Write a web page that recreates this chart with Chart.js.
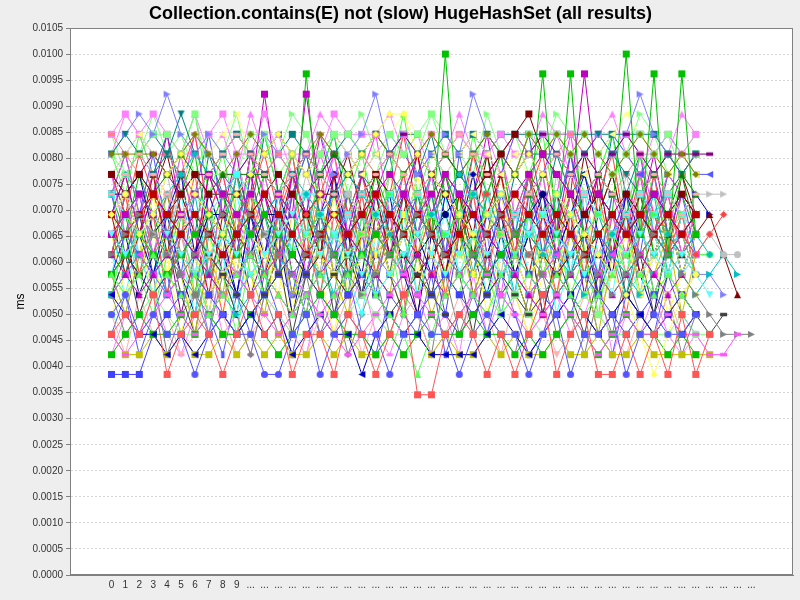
<!DOCTYPE html>
<html>
<head>
<meta charset="utf-8">
<title>Collection.contains(E) not (slow) HugeHashSet (all results)</title>
<script src="https://cdn.jsdelivr.net/npm/chart.js@4.4.0/dist/chart.umd.min.js"></script>
<style>
  html, body { margin: 0; padding: 0; background: #eeeeee; }
  #chart { display: block; }
</style>
</head>
<body>
<canvas id="chart" width="800" height="600"></canvas>
<script>
// ============ Data ============

const categories = [
    '0', '1', '2', '3', '4', '5', '6', '7', '8', '9',
    '...', '...', '...', '...', '...', '...', '...', '...', '...', '...',
    '...', '...', '...', '...', '...', '...', '...', '...', '...', '...',
    '...', '...', '...', '...', '...', '...', '...', '...', '...', '...',
    '...', '...', '...', '...', '...', '...', '...'
];

// one array per run, values in ms
const redSquare = [0.00462,0.00500,0.00462,0.00538,0.00385,0.00462,0.00500,0.00462,0.00385,0.00462,0.00538,0.00462,0.00500,0.00385,0.00462,0.00462,0.00385,0.00500,0.00462,0.00385,0.00462,0.00538,0.00346,0.00346,0.00462,0.00500,0.00462,0.00385,0.00462,0.00385,0.00462,0.00538,0.00385,0.00462,0.00500,0.00385,0.00385,0.00462,0.00385,0.00462,0.00385,0.00500,0.00385,0.00462];
const blueCircle = [0.00500,0.00538,0.00462,0.00500,0.00462,0.00462,0.00385,0.00462,0.00500,0.00462,0.00462,0.00385,0.00385,0.00462,0.00500,0.00385,0.00462,0.00500,0.00462,0.00462,0.00385,0.00462,0.00500,0.00462,0.00462,0.00385,0.00462,0.00500,0.00462,0.00462,0.00385,0.00462,0.00500,0.00385,0.00462,0.00462,0.00500,0.00385,0.00462,0.00500,0.00462,0.00462,0.00500];
const greenTriangle = [0.00577,0.00538,0.00577,0.00615,0.00577,0.00538,0.00577,0.00500,0.00538,0.00577,0.00615,0.00577,0.00538,0.00500,0.00538,0.00577,0.00538,0.00577,0.00615,0.00538,0.00500,0.00462,0.00385,0.00462,0.00538,0.00577,0.00538,0.00500,0.00577,0.00615,0.00577,0.00538,0.00577,0.00538,0.00500,0.00538,0.00577,0.00615,0.00577,0.00538,0.00577,0.00538,0.00500];
const yellowDiamond = [0.00692,0.00731,0.00654,0.00692,0.00769,0.00808,0.00731,0.00692,0.00654,0.00731,0.00769,0.00808,0.00846,0.00808,0.00769,0.00731,0.00692,0.00769,0.00808,0.00846,0.00885,0.00885,0.00808,0.00769,0.00731,0.00692,0.00654,0.00692,0.00731,0.00769,0.00808,0.00769,0.00731,0.00692,0.00654,0.00615,0.00577,0.00538,0.00462,0.00385,0.00462,0.00538,0.00577];
const magentaRect = [0.00462,0.00423,0.00462,0.00500,0.00538,0.00500,0.00462,0.00500,0.00538,0.00577,0.00538,0.00500,0.00462,0.00500,0.00538,0.00500,0.00462,0.00423,0.00462,0.00500,0.00538,0.00577,0.00538,0.00500,0.00462,0.00500,0.00538,0.00577,0.00538,0.00500,0.00462,0.00500,0.00538,0.00500,0.00462,0.00423,0.00462,0.00500,0.00462,0.00462,0.00500,0.00462,0.00462,0.00423,0.00423,0.00462];
const cyanDownTriangle = [0.00654,0.00615,0.00654,0.00692,0.00654,0.00615,0.00577,0.00615,0.00654,0.00615,0.00577,0.00615,0.00654,0.00692,0.00654,0.00615,0.00654,0.00615,0.00577,0.00538,0.00577,0.00615,0.00654,0.00615,0.00577,0.00615,0.00654,0.00615,0.00577,0.00615,0.00654,0.00692,0.00654,0.00615,0.00577,0.00615,0.00577,0.00615,0.00654,0.00615,0.00577,0.00615,0.00577,0.00538];
const pinkEllipse = [0.00731,0.00769,0.00808,0.00769,0.00731,0.00692,0.00731,0.00769,0.00808,0.00846,0.00808,0.00769,0.00731,0.00769,0.00808,0.00769,0.00731,0.00692,0.00731,0.00769,0.00808,0.00769,0.00731,0.00769,0.00808,0.00846,0.00808,0.00769,0.00731,0.00692,0.00731,0.00769,0.00808,0.00769,0.00731,0.00769,0.00731,0.00692,0.00731,0.00769,0.00731,0.00692,0.00731];
const grayTriangle = [0.00615,0.00654,0.00692,0.00654,0.00615,0.00577,0.00615,0.00654,0.00692,0.00731,0.00692,0.00654,0.00615,0.00577,0.00615,0.00654,0.00615,0.00577,0.00538,0.00577,0.00615,0.00654,0.00692,0.00654,0.00615,0.00577,0.00615,0.00654,0.00692,0.00654,0.00615,0.00577,0.00538,0.00577,0.00615,0.00577,0.00538,0.00577,0.00615,0.00654,0.00615,0.00577,0.00538,0.00500,0.00462,0.00462,0.00462];
const darkRedSquare = [0.00692,0.00654,0.00692,0.00731,0.00692,0.00654,0.00692,0.00654,0.00615,0.00654,0.00692,0.00731,0.00692,0.00654,0.00615,0.00654,0.00692,0.00654,0.00692,0.00731,0.00692,0.00654,0.00692,0.00654,0.00615,0.00654,0.00692,0.00654,0.00692,0.00731,0.00692,0.00654,0.00692,0.00654,0.00615,0.00654,0.00692,0.00654,0.00692,0.00654,0.00692,0.00654,0.00692];
const darkBlueLeft = [0.00538,0.00500,0.00462,0.00462,0.00423,0.00462,0.00423,0.00462,0.00500,0.00462,0.00500,0.00462,0.00500,0.00423,0.00462,0.00500,0.00462,0.00462,0.00385,0.00462,0.00500,0.00462,0.00462,0.00423,0.00423,0.00423,0.00423,0.00462,0.00500,0.00462,0.00423,0.00462,0.00500,0.00538,0.00500,0.00462,0.00500,0.00538,0.00500,0.00462,0.00500,0.00462,0.00500];
const darkGreenLow = [0.00423,0.00462,0.00500,0.00462,0.00462,0.00500,0.00462,0.00500,0.00462,0.00462,0.00500,0.00462,0.00423,0.00462,0.00500,0.00538,0.00500,0.00462,0.00462,0.00423,0.00462,0.00423,0.00462,0.00500,0.00462,0.00462,0.00500,0.00462,0.00462,0.00423,0.00462,0.00423,0.00462,0.00500,0.00462,0.00423,0.00462,0.00500,0.00462,0.00462,0.00423,0.00462,0.00423];
const darkGreenPeak = [0.00577,0.00615,0.00654,0.00615,0.00577,0.00615,0.00654,0.00692,0.00654,0.00615,0.00654,0.00692,0.00654,0.00615,0.00962,0.00654,0.00615,0.00577,0.00615,0.00654,0.00615,0.00654,0.00692,0.00654,0.01000,0.00654,0.00615,0.00577,0.00615,0.00654,0.00692,0.00962,0.00654,0.00962,0.00615,0.00654,0.00692,0.01000,0.00654,0.00962,0.00615,0.00962,0.00654];
const darkYellowSquare = [0.00462,0.00423,0.00423,0.00462,0.00423,0.00462,0.00423,0.00423,0.00462,0.00423,0.00462,0.00423,0.00462,0.00423,0.00423,0.00462,0.00423,0.00462,0.00423,0.00423,0.00462,0.00423,0.00462,0.00423,0.00462,0.00423,0.00423,0.00462,0.00423,0.00462,0.00423,0.00423,0.00462,0.00423,0.00423,0.00462,0.00423,0.00423,0.00462,0.00423,0.00423,0.00423,0.00423,0.00423];
const darkMagentaSquare = [0.00654,0.00692,0.00731,0.00692,0.00654,0.00692,0.00731,0.00769,0.00731,0.00692,0.00731,0.00923,0.00731,0.00692,0.00923,0.00731,0.00692,0.00654,0.00692,0.00731,0.00769,0.00731,0.00692,0.00731,0.00769,0.00731,0.00692,0.00654,0.00692,0.00731,0.00769,0.00808,0.00769,0.00731,0.00962,0.00731,0.00692,0.00654,0.00692,0.00731,0.00692,0.00654,0.00692];
const darkMagentaTriangle = [0.00615,0.00577,0.00538,0.00577,0.00615,0.00654,0.00615,0.00577,0.00538,0.00577,0.00615,0.00577,0.00538,0.00500,0.00538,0.00577,0.00615,0.00654,0.00615,0.00577,0.00538,0.00577,0.00615,0.00577,0.00538,0.00577,0.00615,0.00654,0.00615,0.00577,0.00538,0.00500,0.00538,0.00577,0.00615,0.00577,0.00538,0.00577,0.00615,0.00577,0.00538,0.00577];
const darkCyanDiamond = [0.00731,0.00769,0.00731,0.00692,0.00731,0.00769,0.00808,0.00769,0.00731,0.00692,0.00654,0.00692,0.00731,0.00769,0.00731,0.00692,0.00731,0.00769,0.00731,0.00692,0.00654,0.00615,0.00654,0.00692,0.00731,0.00769,0.00731,0.00692,0.00731,0.00692,0.00654,0.00615,0.00654,0.00615,0.00577,0.00615,0.00654,0.00692,0.00654,0.00615,0.00654,0.00615,0.00654,0.00615];
const darkGrayRect = [0.00577,0.00615,0.00577,0.00538,0.00577,0.00615,0.00654,0.00615,0.00577,0.00538,0.00500,0.00538,0.00577,0.00615,0.00577,0.00538,0.00577,0.00615,0.00577,0.00538,0.00500,0.00538,0.00577,0.00538,0.00500,0.00462,0.00500,0.00538,0.00577,0.00538,0.00500,0.00538,0.00577,0.00538,0.00500,0.00462,0.00500,0.00538,0.00500,0.00462,0.00500,0.00538,0.00500,0.00462,0.00500];
const lightRedDiamond = [0.00615,0.00654,0.00692,0.00731,0.00692,0.00654,0.00615,0.00654,0.00692,0.00654,0.00615,0.00577,0.00615,0.00654,0.00692,0.00731,0.00692,0.00654,0.00615,0.00654,0.00692,0.00654,0.00615,0.00577,0.00615,0.00654,0.00692,0.00731,0.00692,0.00654,0.00615,0.00654,0.00692,0.00654,0.00615,0.00654,0.00692,0.00654,0.00615,0.00654,0.00692,0.00654,0.00615,0.00654,0.00692];
const lightBlueSquare = [0.00385,0.00385,0.00385,0.00462,0.00500,0.00538,0.00577,0.00538,0.00500,0.00462,0.00500,0.00538,0.00577,0.00615,0.00577,0.00538,0.00500,0.00538,0.00577,0.00538,0.00500,0.00462,0.00500,0.00538,0.00577,0.00538,0.00500,0.00538,0.00577,0.00615,0.00577,0.00538,0.00500,0.00538,0.00577,0.00538,0.00500,0.00462,0.00500,0.00538,0.00500,0.00538,0.00500];
const lightGreenRight = [0.00654,0.00692,0.00654,0.00615,0.00654,0.00692,0.00731,0.00692,0.00654,0.00692,0.00731,0.00692,0.00654,0.00615,0.00654,0.00692,0.00654,0.00615,0.00654,0.00692,0.00731,0.00769,0.00731,0.00692,0.00654,0.00692,0.00731,0.00692,0.00654,0.00615,0.00654,0.00692,0.00731,0.00692,0.00654,0.00692,0.00654,0.00615,0.00654,0.00692,0.00654,0.00692];
const lightYellowBar = [0.00577,0.00615,0.00654,0.00615,0.00577,0.00615,0.00577,0.00538,0.00577,0.00615,0.00654,0.00615,0.00577,0.00615,0.00654,0.00615,0.00577,0.00615,0.00577,0.00615,0.00654,0.00692,0.00654,0.00615,0.00577,0.00615,0.00577,0.00538,0.00577,0.00615,0.00577,0.00615,0.00654,0.00615,0.00577,0.00538,0.00577,0.00615,0.00577,0.00615,0.00577,0.00538,0.00577];
const lightMagentaLeft = [0.00538,0.00577,0.00615,0.00577,0.00538,0.00577,0.00615,0.00654,0.00615,0.00577,0.00538,0.00577,0.00615,0.00577,0.00538,0.00500,0.00538,0.00577,0.00615,0.00654,0.00615,0.00577,0.00538,0.00577,0.00615,0.00577,0.00615,0.00654,0.00615,0.00577,0.00538,0.00577,0.00615,0.00654,0.00615,0.00577,0.00615,0.00654,0.00615,0.00577,0.00615,0.00654,0.00615];
const lightCyanSquare = [0.00731,0.00692,0.00731,0.00692,0.00654,0.00692,0.00731,0.00692,0.00731,0.00769,0.00731,0.00692,0.00731,0.00692,0.00731,0.00692,0.00654,0.00692,0.00731,0.00692,0.00731,0.00692,0.00731,0.00692,0.00654,0.00692,0.00731,0.00692,0.00731,0.00692,0.00654,0.00692,0.00731,0.00692,0.00731,0.00692,0.00654,0.00692,0.00731,0.00692,0.00731,0.00692];
const lightGrayCircle = [0.00692,0.00731,0.00692,0.00654,0.00615,0.00654,0.00692,0.00654,0.00615,0.00577,0.00615,0.00654,0.00692,0.00654,0.00615,0.00654,0.00692,0.00731,0.00692,0.00654,0.00615,0.00654,0.00692,0.00654,0.00615,0.00577,0.00615,0.00654,0.00692,0.00654,0.00615,0.00654,0.00692,0.00654,0.00615,0.00654,0.00692,0.00654,0.00615,0.00654,0.00692,0.00654,0.00615,0.00654,0.00615,0.00615];
const maroonSquare = [0.00769,0.00731,0.00769,0.00731,0.00692,0.00731,0.00769,0.00731,0.00731,0.00731,0.00692,0.00731,0.00769,0.00731,0.00692,0.00731,0.00731,0.00692,0.00731,0.00769,0.00731,0.00692,0.00731,0.00692,0.00731,0.00692,0.00731,0.00769,0.00808,0.00846,0.00885,0.00808,0.00769,0.00731,0.00692,0.00731,0.00692,0.00731,0.00692,0.00731,0.00692,0.00731,0.00692];
const maroonTriangle = [0.00654,0.00615,0.00577,0.00615,0.00654,0.00615,0.00577,0.00538,0.00577,0.00615,0.00654,0.00692,0.00654,0.00615,0.00577,0.00615,0.00577,0.00538,0.00577,0.00615,0.00654,0.00615,0.00577,0.00615,0.00654,0.00692,0.00654,0.00615,0.00577,0.00615,0.00654,0.00615,0.00577,0.00615,0.00654,0.00615,0.00577,0.00615,0.00654,0.00692,0.00654,0.00615,0.00654,0.00692,0.00615,0.00538];
const navyCircle = [0.00731,0.00731,0.00769,0.00654,0.00692,0.00654,0.00615,0.00692,0.00692,0.00654,0.00615,0.00692,0.00692,0.00654,0.00692,0.00731,0.00692,0.00654,0.00692,0.00654,0.00692,0.00654,0.00615,0.00654,0.00692,0.00731,0.00692,0.00654,0.00615,0.00654,0.00692,0.00731,0.00692,0.00654,0.00692,0.00731,0.00692,0.00654,0.00692,0.00654,0.00615,0.00654,0.00692];
const forestTriangle = [0.00692,0.00731,0.00769,0.00731,0.00769,0.00808,0.00769,0.00731,0.00769,0.00769,0.00769,0.00769,0.00731,0.00692,0.00731,0.00769,0.00808,0.00769,0.00731,0.00769,0.00731,0.00692,0.00731,0.00769,0.00808,0.00769,0.00731,0.00692,0.00731,0.00769,0.00731,0.00769,0.00731,0.00692,0.00731,0.00769,0.00731,0.00692,0.00731,0.00769,0.00731,0.00769,0.00731];
const oliveDiamond = [0.00808,0.00808,0.00808,0.00808,0.00769,0.00808,0.00846,0.00808,0.00769,0.00808,0.00846,0.00808,0.00846,0.00808,0.00769,0.00846,0.00808,0.00769,0.00808,0.00846,0.00808,0.00769,0.00808,0.00846,0.00808,0.00769,0.00808,0.00846,0.00808,0.00769,0.00846,0.00808,0.00846,0.00808,0.00846,0.00808,0.00769,0.00808,0.00846,0.00808,0.00769,0.00808,0.00769];
const purpleRect = [0.00769,0.00731,0.00769,0.00808,0.00769,0.00731,0.00769,0.00769,0.00731,0.00769,0.00808,0.00769,0.00731,0.00769,0.00808,0.00769,0.00808,0.00769,0.00731,0.00769,0.00808,0.00846,0.00808,0.00769,0.00808,0.00769,0.00731,0.00769,0.00808,0.00769,0.00808,0.00846,0.00808,0.00769,0.00808,0.00769,0.00808,0.00846,0.00808,0.00769,0.00808,0.00808,0.00808,0.00808];
const tealDownTriangle = [0.00808,0.00846,0.00808,0.00769,0.00808,0.00885,0.00808,0.00769,0.00808,0.00846,0.00808,0.00769,0.00731,0.00769,0.00808,0.00769,0.00731,0.00769,0.00808,0.00846,0.00808,0.00769,0.00808,0.00769,0.00731,0.00769,0.00808,0.00846,0.00808,0.00769,0.00808,0.00808,0.00808,0.00769,0.00808,0.00846,0.00808,0.00769,0.00731,0.00769,0.00808,0.00769,0.00808];
const salmonRect = [0.00846,0.00808,0.00769,0.00808,0.00808,0.00769,0.00731,0.00769,0.00808,0.00846,0.00808,0.00769,0.00808,0.00769,0.00808,0.00846,0.00808,0.00769,0.00808,0.00769,0.00731,0.00769,0.00808,0.00846,0.00808,0.00846,0.00808,0.00769,0.00808,0.00846,0.00808,0.00769,0.00808,0.00846,0.00808,0.00769,0.00731,0.00769,0.00808,0.00769,0.00808,0.00769,0.00808];
const lavenderRight = [0.00808,0.00846,0.00885,0.00846,0.00923,0.00846,0.00808,0.00846,0.00808,0.00769,0.00808,0.00846,0.00808,0.00769,0.00808,0.00846,0.00769,0.00808,0.00846,0.00923,0.00808,0.00846,0.00769,0.00808,0.00846,0.00808,0.00923,0.00846,0.00808,0.00846,0.00808,0.00846,0.00808,0.00769,0.00808,0.00846,0.00808,0.00846,0.00923,0.00846,0.00808,0.00769,0.00808];
const mintSquare = [0.00808,0.00769,0.00808,0.00846,0.00846,0.00808,0.00885,0.00769,0.00769,0.00769,0.00846,0.00846,0.00769,0.00808,0.00846,0.00808,0.00846,0.00846,0.00808,0.00769,0.00846,0.00808,0.00846,0.00885,0.00808,0.00769,0.00808,0.00846,0.00808,0.00769,0.00846,0.00808,0.00846,0.00808,0.00846,0.00808,0.00769,0.00808,0.00846,0.00808,0.00846,0.00769,0.00808];
const creamLeft = [0.00769,0.00808,0.00846,0.00808,0.00769,0.00808,0.00846,0.00808,0.00846,0.00885,0.00808,0.00808,0.00769,0.00808,0.00769,0.00808,0.00846,0.00808,0.00769,0.00808,0.00846,0.00885,0.00846,0.00808,0.00769,0.00808,0.00846,0.00808,0.00769,0.00808,0.00769,0.00808,0.00846,0.00808,0.00769,0.00808,0.00846,0.00885,0.00846,0.00808,0.00769,0.00808,0.00769];
const orchidSquare = [0.00846,0.00885,0.00846,0.00885,0.00846,0.00808,0.00808,0.00846,0.00885,0.00808,0.00808,0.00885,0.00808,0.00808,0.00808,0.00808,0.00885,0.00846,0.00846,0.00846,0.00808,0.00846,0.00808,0.00846,0.00808,0.00846,0.00808,0.00808,0.00846,0.00808,0.00808,0.00846,0.00846,0.00846,0.00808,0.00846,0.00808,0.00846,0.00808,0.00808,0.00846,0.00808,0.00846];
const blueDownTriangle = [0.00615,0.00654,0.00615,0.00577,0.00615,0.00654,0.00692,0.00654,0.00615,0.00654,0.00692,0.00654,0.00615,0.00577,0.00615,0.00654,0.00615,0.00577,0.00615,0.00654,0.00692,0.00731,0.00692,0.00654,0.00615,0.00654,0.00615,0.00577,0.00615,0.00654,0.00692,0.00654,0.00615,0.00654,0.00692,0.00654,0.00615,0.00654,0.00615,0.00654,0.00692,0.00654,0.00615];
const greenEllipse = [0.00577,0.00538,0.00577,0.00615,0.00577,0.00538,0.00500,0.00538,0.00577,0.00615,0.00577,0.00538,0.00577,0.00615,0.00654,0.00615,0.00577,0.00538,0.00577,0.00538,0.00577,0.00615,0.00577,0.00538,0.00577,0.00615,0.00577,0.00538,0.00500,0.00538,0.00577,0.00615,0.00577,0.00538,0.00577,0.00615,0.00577,0.00538,0.00577,0.00538,0.00577,0.00615,0.00577];
const yellowRight = [0.00654,0.00692,0.00654,0.00615,0.00577,0.00615,0.00654,0.00692,0.00731,0.00692,0.00654,0.00615,0.00654,0.00692,0.00654,0.00615,0.00577,0.00615,0.00654,0.00692,0.00654,0.00615,0.00654,0.00692,0.00731,0.00692,0.00654,0.00615,0.00654,0.00615,0.00577,0.00615,0.00654,0.00692,0.00654,0.00615,0.00654,0.00692,0.00654,0.00615,0.00654,0.00615,0.00654];
const cyanRight = [0.00538,0.00577,0.00615,0.00577,0.00538,0.00577,0.00615,0.00577,0.00538,0.00500,0.00538,0.00577,0.00615,0.00654,0.00615,0.00577,0.00538,0.00577,0.00615,0.00577,0.00538,0.00577,0.00615,0.00654,0.00615,0.00577,0.00538,0.00577,0.00615,0.00577,0.00538,0.00577,0.00615,0.00577,0.00538,0.00577,0.00615,0.00577,0.00538,0.00577,0.00615,0.00577,0.00538,0.00577,0.00615,0.00577];
const pinkSquare = [0.00731,0.00692,0.00654,0.00692,0.00731,0.00692,0.00654,0.00615,0.00654,0.00692,0.00731,0.00692,0.00654,0.00692,0.00731,0.00769,0.00731,0.00692,0.00654,0.00692,0.00731,0.00692,0.00654,0.00615,0.00654,0.00692,0.00731,0.00692,0.00654,0.00692,0.00731,0.00692,0.00654,0.00692,0.00731,0.00692,0.00654,0.00692,0.00654,0.00692,0.00731,0.00692,0.00654];
const grayCircle = [0.00538,0.00577,0.00615,0.00654,0.00615,0.00577,0.00538,0.00577,0.00615,0.00577,0.00538,0.00577,0.00615,0.00654,0.00692,0.00654,0.00615,0.00577,0.00615,0.00654,0.00615,0.00577,0.00538,0.00577,0.00615,0.00654,0.00615,0.00577,0.00615,0.00654,0.00615,0.00577,0.00538,0.00577,0.00615,0.00654,0.00615,0.00577,0.00615,0.00577,0.00615,0.00654,0.00615];
const darkBlueRight = [0.00654,0.00692,0.00731,0.00692,0.00654,0.00692,0.00731,0.00692,0.00654,0.00615,0.00654,0.00692,0.00731,0.00692,0.00654,0.00692,0.00731,0.00692,0.00654,0.00692,0.00731,0.00692,0.00654,0.00615,0.00654,0.00692,0.00731,0.00692,0.00654,0.00692,0.00731,0.00692,0.00654,0.00692,0.00731,0.00769,0.00731,0.00692,0.00654,0.00692,0.00731,0.00692,0.00731,0.00692];
const blueLeft = [0.00769,0.00808,0.00846,0.00808,0.00769,0.00808,0.00846,0.00808,0.00769,0.00731,0.00769,0.00808,0.00846,0.00808,0.00769,0.00808,0.00846,0.00808,0.00769,0.00808,0.00846,0.00808,0.00769,0.00808,0.00769,0.00808,0.00846,0.00808,0.00769,0.00846,0.00808,0.00769,0.00846,0.00808,0.00769,0.00808,0.00846,0.00808,0.00769,0.00808,0.00846,0.00808,0.00769,0.00769];
const periwinkleRight = [0.00577,0.00615,0.00577,0.00538,0.00577,0.00615,0.00654,0.00615,0.00577,0.00538,0.00577,0.00615,0.00577,0.00538,0.00577,0.00615,0.00654,0.00615,0.00577,0.00615,0.00577,0.00538,0.00577,0.00615,0.00577,0.00538,0.00577,0.00615,0.00654,0.00615,0.00577,0.00538,0.00577,0.00615,0.00577,0.00538,0.00577,0.00615,0.00577,0.00615,0.00577,0.00538,0.00577,0.00577,0.00538];
const cyanRect = [0.00692,0.00731,0.00692,0.00731,0.00692,0.00731,0.00692,0.00731,0.00731,0.00731,0.00692,0.00654,0.00692,0.00731,0.00731,0.00731,0.00692,0.00731,0.00692,0.00654,0.00692,0.00731,0.00692,0.00654,0.00692,0.00731,0.00731,0.00692,0.00654,0.00692,0.00731,0.00692,0.00654,0.00692,0.00731,0.00692,0.00731,0.00692,0.00654,0.00692,0.00731,0.00692,0.00654];
const paleCyanDiamond = [0.00615,0.00654,0.00615,0.00577,0.00615,0.00577,0.00615,0.00654,0.00615,0.00577,0.00615,0.00654,0.00615,0.00577,0.00538,0.00577,0.00615,0.00577,0.00615,0.00654,0.00615,0.00577,0.00615,0.00577,0.00615,0.00654,0.00615,0.00577,0.00615,0.00577,0.00538,0.00577,0.00615,0.00577,0.00615,0.00654,0.00615,0.00577,0.00615,0.00577,0.00615,0.00577,0.00615];
const tealSquare = [0.00731,0.00769,0.00808,0.00846,0.00808,0.00769,0.00731,0.00769,0.00808,0.00846,0.00808,0.00769,0.00808,0.00846,0.00808,0.00769,0.00808,0.00846,0.00808,0.00846,0.00808,0.00846,0.00846,0.00808,0.00846,0.00808,0.00846,0.00808,0.00846,0.00846,0.00846,0.00846,0.00846,0.00846,0.00846,0.00846,0.00846,0.00846,0.00846,0.00846,0.00808,0.00769,0.00808];
const limeCircle = [0.00692,0.00654,0.00615,0.00654,0.00692,0.00654,0.00615,0.00577,0.00615,0.00654,0.00692,0.00654,0.00615,0.00654,0.00692,0.00654,0.00615,0.00577,0.00615,0.00654,0.00615,0.00654,0.00692,0.00654,0.00615,0.00577,0.00615,0.00654,0.00692,0.00654,0.00615,0.00654,0.00615,0.00577,0.00615,0.00654,0.00692,0.00654,0.00615,0.00654,0.00615,0.00654,0.00615,0.00615];
const mintLowSquare = [0.00500,0.00462,0.00500,0.00538,0.00500,0.00462,0.00462,0.00500,0.00462,0.00462,0.00500,0.00538,0.00500,0.00462,0.00462,0.00500,0.00462,0.00500,0.00538,0.00500,0.00462,0.00462,0.00500,0.00462,0.00462,0.00500,0.00462,0.00462,0.00500,0.00538,0.00500,0.00462,0.00462,0.00500,0.00538,0.00500,0.00462,0.00462,0.00500,0.00462,0.00462,0.00500,0.00462,0.00462];
const redEllipse = [0.00615,0.00731,0.00577,0.00692,0.00538,0.00654,0.00769,0.00615,0.00500,0.00654,0.00731,0.00577,0.00692,0.00808,0.00654,0.00538,0.00692,0.00615,0.00731,0.00577,0.00654,0.00769,0.00615,0.00692,0.00538,0.00654,0.00731,0.00577,0.00692,0.00615,0.00769,0.00654,0.00538,0.00692,0.00577,0.00731,0.00615,0.00500,0.00654,0.00769,0.00615,0.00692,0.00577];
const blueRight = [0.00731,0.00615,0.00692,0.00808,0.00654,0.00577,0.00731,0.00846,0.00692,0.00615,0.00769,0.00654,0.00577,0.00731,0.00808,0.00692,0.00615,0.00731,0.00654,0.00538,0.00692,0.00769,0.00654,0.00731,0.00615,0.00808,0.00692,0.00577,0.00731,0.00654,0.00769,0.00615,0.00692,0.00808,0.00654,0.00577,0.00731,0.00692,0.00615,0.00769,0.00654,0.00731,0.00615];
const greenBar = [0.00538,0.00654,0.00577,0.00500,0.00615,0.00692,0.00538,0.00654,0.00577,0.00462,0.00615,0.00538,0.00692,0.00577,0.00500,0.00654,0.00615,0.00538,0.00692,0.00577,0.00654,0.00500,0.00615,0.00731,0.00577,0.00538,0.00654,0.00577,0.00500,0.00615,0.00692,0.00577,0.00654,0.00538,0.00615,0.00500,0.00654,0.00577,0.00692,0.00538,0.00615,0.00654,0.00577];
const yellowLeft = [0.00654,0.00538,0.00615,0.00731,0.00577,0.00692,0.00615,0.00500,0.00654,0.00577,0.00731,0.00615,0.00538,0.00692,0.00654,0.00577,0.00731,0.00538,0.00615,0.00692,0.00577,0.00654,0.00769,0.00615,0.00538,0.00692,0.00577,0.00654,0.00731,0.00615,0.00538,0.00654,0.00577,0.00692,0.00615,0.00731,0.00577,0.00654,0.00538,0.00615,0.00692,0.00577,0.00654];
const magentaBar = [0.00769,0.00654,0.00731,0.00615,0.00692,0.00808,0.00654,0.00577,0.00731,0.00692,0.00615,0.00769,0.00654,0.00731,0.00577,0.00692,0.00808,0.00654,0.00615,0.00731,0.00692,0.00577,0.00654,0.00769,0.00615,0.00692,0.00731,0.00615,0.00538,0.00692,0.00654,0.00769,0.00615,0.00731,0.00654,0.00577,0.00692,0.00615,0.00769,0.00654,0.00731,0.00615,0.00692];
const cyanLeft = [0.00577,0.00692,0.00615,0.00538,0.00654,0.00731,0.00577,0.00692,0.00615,0.00500,0.00654,0.00577,0.00731,0.00615,0.00692,0.00538,0.00654,0.00577,0.00692,0.00615,0.00731,0.00654,0.00538,0.00615,0.00692,0.00577,0.00654,0.00731,0.00615,0.00538,0.00692,0.00615,0.00654,0.00577,0.00731,0.00615,0.00538,0.00692,0.00615,0.00654,0.00577,0.00692,0.00615];
const darkRedTriangle = [0.00692,0.00577,0.00654,0.00769,0.00615,0.00731,0.00654,0.00538,0.00692,0.00615,0.00769,0.00654,0.00577,0.00731,0.00692,0.00615,0.00769,0.00577,0.00654,0.00731,0.00615,0.00692,0.00808,0.00654,0.00577,0.00731,0.00615,0.00692,0.00769,0.00654,0.00577,0.00692,0.00615,0.00731,0.00654,0.00769,0.00615,0.00692,0.00577,0.00654,0.00731,0.00615,0.00692];
const darkBlueDiamond = [0.00615,0.00731,0.00654,0.00577,0.00692,0.00769,0.00615,0.00731,0.00654,0.00538,0.00692,0.00615,0.00731,0.00654,0.00577,0.00692,0.00769,0.00654,0.00577,0.00731,0.00615,0.00692,0.00654,0.00577,0.00731,0.00654,0.00769,0.00615,0.00692,0.00577,0.00654,0.00731,0.00615,0.00692,0.00769,0.00654,0.00577,0.00731,0.00654,0.00615,0.00692,0.00577,0.00654];
const darkGreenRect = [0.00731,0.00654,0.00769,0.00692,0.00615,0.00731,0.00808,0.00654,0.00731,0.00615,0.00692,0.00769,0.00654,0.00731,0.00808,0.00692,0.00615,0.00731,0.00654,0.00769,0.00692,0.00577,0.00731,0.00654,0.00769,0.00692,0.00615,0.00731,0.00808,0.00654,0.00692,0.00769,0.00615,0.00731,0.00654,0.00577,0.00731,0.00692,0.00769,0.00615,0.00692,0.00731,0.00654];
const darkYellowDown = [0.00577,0.00500,0.00615,0.00538,0.00654,0.00577,0.00462,0.00615,0.00538,0.00692,0.00577,0.00500,0.00654,0.00538,0.00615,0.00731,0.00577,0.00500,0.00654,0.00577,0.00538,0.00692,0.00615,0.00500,0.00577,0.00654,0.00538,0.00615,0.00692,0.00577,0.00500,0.00615,0.00538,0.00654,0.00577,0.00462,0.00615,0.00692,0.00538,0.00577,0.00654,0.00500,0.00615];
const darkMagentaEllipse = [0.00692,0.00769,0.00654,0.00731,0.00846,0.00692,0.00615,0.00769,0.00692,0.00808,0.00654,0.00731,0.00615,0.00769,0.00692,0.00846,0.00731,0.00654,0.00769,0.00692,0.00615,0.00731,0.00808,0.00692,0.00769,0.00654,0.00731,0.00846,0.00692,0.00615,0.00769,0.00731,0.00654,0.00808,0.00692,0.00769,0.00615,0.00731,0.00692,0.00808,0.00654,0.00731,0.00692];
const darkCyanRight = [0.00654,0.00577,0.00692,0.00615,0.00538,0.00654,0.00731,0.00577,0.00654,0.00769,0.00615,0.00692,0.00577,0.00654,0.00731,0.00615,0.00538,0.00692,0.00615,0.00731,0.00654,0.00577,0.00692,0.00769,0.00615,0.00654,0.00577,0.00731,0.00654,0.00538,0.00692,0.00615,0.00731,0.00577,0.00654,0.00692,0.00615,0.00538,0.00654,0.00731,0.00577,0.00692,0.00615];
const darkGrayBar = [0.00538,0.00615,0.00500,0.00577,0.00654,0.00538,0.00462,0.00615,0.00577,0.00500,0.00654,0.00538,0.00615,0.00462,0.00577,0.00654,0.00500,0.00615,0.00538,0.00692,0.00577,0.00500,0.00615,0.00538,0.00654,0.00577,0.00462,0.00615,0.00538,0.00577,0.00654,0.00500,0.00615,0.00538,0.00462,0.00577,0.00654,0.00538,0.00615,0.00500,0.00577,0.00538,0.00500];
const lightRedLeft = [0.00769,0.00692,0.00808,0.00731,0.00654,0.00769,0.00846,0.00692,0.00769,0.00654,0.00731,0.00808,0.00692,0.00769,0.00615,0.00731,0.00808,0.00692,0.00769,0.00654,0.00731,0.00846,0.00692,0.00769,0.00731,0.00654,0.00808,0.00692,0.00769,0.00615,0.00731,0.00808,0.00654,0.00769,0.00692,0.00731,0.00808,0.00654,0.00769,0.00692,0.00615,0.00731,0.00692];
const lightBlueCircle = [0.00577,0.00654,0.00731,0.00615,0.00538,0.00692,0.00615,0.00500,0.00654,0.00577,0.00731,0.00615,0.00692,0.00538,0.00654,0.00577,0.00769,0.00615,0.00538,0.00692,0.00577,0.00654,0.00731,0.00615,0.00500,0.00654,0.00577,0.00692,0.00615,0.00538,0.00731,0.00654,0.00577,0.00615,0.00692,0.00538,0.00654,0.00731,0.00577,0.00615,0.00692,0.00577,0.00654];
const lightGreenTriangle = [0.00808,0.00731,0.00846,0.00769,0.00692,0.00808,0.00885,0.00731,0.00808,0.00692,0.00769,0.00846,0.00731,0.00808,0.00654,0.00769,0.00846,0.00731,0.00808,0.00692,0.00769,0.00885,0.00731,0.00808,0.00769,0.00692,0.00846,0.00731,0.00808,0.00654,0.00769,0.00846,0.00692,0.00808,0.00731,0.00769,0.00846,0.00692,0.00808,0.00731,0.00654,0.00769,0.00731];
const lightYellowDiamond = [0.00500,0.00577,0.00654,0.00538,0.00615,0.00462,0.00577,0.00654,0.00500,0.00615,0.00538,0.00692,0.00577,0.00500,0.00654,0.00577,0.00462,0.00615,0.00538,0.00654,0.00577,0.00500,0.00615,0.00692,0.00538,0.00577,0.00654,0.00500,0.00615,0.00538,0.00462,0.00577,0.00654,0.00538,0.00615,0.00500,0.00577,0.00654,0.00538,0.00615,0.00500,0.00577,0.00538];
const lightMagentaRect = [0.00731,0.00808,0.00692,0.00769,0.00654,0.00731,0.00846,0.00692,0.00769,0.00654,0.00808,0.00731,0.00615,0.00769,0.00692,0.00808,0.00731,0.00654,0.00769,0.00846,0.00692,0.00731,0.00808,0.00654,0.00769,0.00692,0.00615,0.00731,0.00808,0.00692,0.00769,0.00654,0.00731,0.00846,0.00692,0.00769,0.00731,0.00654,0.00808,0.00692,0.00769,0.00731,0.00692];
const lightCyanDown = [0.00615,0.00538,0.00654,0.00577,0.00692,0.00615,0.00500,0.00654,0.00577,0.00731,0.00615,0.00538,0.00692,0.00615,0.00577,0.00654,0.00731,0.00577,0.00500,0.00654,0.00615,0.00692,0.00538,0.00615,0.00731,0.00577,0.00654,0.00538,0.00615,0.00692,0.00577,0.00654,0.00500,0.00615,0.00692,0.00577,0.00654,0.00615,0.00538,0.00692,0.00615,0.00577,0.00654];
const lightGrayRight = [0.00654,0.00731,0.00615,0.00692,0.00769,0.00654,0.00577,0.00731,0.00654,0.00808,0.00692,0.00615,0.00731,0.00654,0.00769,0.00692,0.00577,0.00731,0.00654,0.00615,0.00769,0.00692,0.00654,0.00731,0.00615,0.00692,0.00769,0.00654,0.00577,0.00731,0.00692,0.00615,0.00769,0.00654,0.00731,0.00692,0.00615,0.00769,0.00654,0.00731,0.00692,0.00654,0.00731,0.00731,0.00731];
const maroonEllipse = [0.00692,0.00769,0.00654,0.00731,0.00808,0.00692,0.00615,0.00769,0.00692,0.00654,0.00808,0.00731,0.00654,0.00769,0.00692,0.00615,0.00731,0.00808,0.00692,0.00769,0.00654,0.00731,0.00615,0.00692,0.00769,0.00731,0.00654,0.00808,0.00692,0.00615,0.00769,0.00692,0.00731,0.00654,0.00808,0.00692,0.00769,0.00654,0.00731,0.00692,0.00615,0.00769,0.00692];
const navyRight = [0.00577,0.00654,0.00538,0.00615,0.00692,0.00577,0.00500,0.00654,0.00615,0.00538,0.00692,0.00577,0.00654,0.00500,0.00615,0.00692,0.00577,0.00654,0.00538,0.00615,0.00731,0.00577,0.00500,0.00654,0.00577,0.00692,0.00615,0.00538,0.00654,0.00577,0.00500,0.00615,0.00692,0.00577,0.00654,0.00538,0.00615,0.00692,0.00577,0.00500,0.00654,0.00615,0.00577];
const forestBar = [0.00769,0.00692,0.00615,0.00731,0.00654,0.00769,0.00692,0.00577,0.00731,0.00654,0.00808,0.00692,0.00615,0.00769,0.00692,0.00654,0.00731,0.00615,0.00769,0.00692,0.00577,0.00731,0.00654,0.00769,0.00692,0.00615,0.00731,0.00808,0.00654,0.00692,0.00769,0.00615,0.00731,0.00654,0.00577,0.00692,0.00769,0.00654,0.00731,0.00615,0.00692,0.00769,0.00654];
const oliveLeft = [0.00615,0.00692,0.00577,0.00654,0.00731,0.00615,0.00538,0.00692,0.00615,0.00769,0.00654,0.00577,0.00731,0.00615,0.00692,0.00538,0.00654,0.00731,0.00615,0.00577,0.00692,0.00654,0.00538,0.00692,0.00615,0.00731,0.00577,0.00654,0.00769,0.00615,0.00692,0.00577,0.00654,0.00731,0.00615,0.00538,0.00692,0.00615,0.00731,0.00654,0.00577,0.00692,0.00615];
const purpleCircle = [0.00538,0.00615,0.00692,0.00577,0.00654,0.00500,0.00615,0.00692,0.00577,0.00654,0.00538,0.00615,0.00731,0.00577,0.00500,0.00654,0.00615,0.00538,0.00692,0.00577,0.00654,0.00615,0.00500,0.00654,0.00577,0.00692,0.00538,0.00615,0.00692,0.00577,0.00654,0.00500,0.00615,0.00692,0.00538,0.00654,0.00577,0.00615,0.00692,0.00538,0.00615,0.00654,0.00577];
const tealRight = [0.00731,0.00808,0.00692,0.00769,0.00846,0.00731,0.00654,0.00808,0.00731,0.00769,0.00692,0.00846,0.00731,0.00808,0.00654,0.00769,0.00846,0.00692,0.00769,0.00731,0.00808,0.00654,0.00769,0.00846,0.00731,0.00692,0.00808,0.00731,0.00654,0.00769,0.00846,0.00692,0.00808,0.00731,0.00769,0.00692,0.00846,0.00731,0.00808,0.00654,0.00769,0.00731,0.00692];
const salmonTriangle = [0.00654,0.00577,0.00692,0.00615,0.00731,0.00654,0.00538,0.00692,0.00615,0.00577,0.00731,0.00654,0.00577,0.00692,0.00615,0.00769,0.00654,0.00577,0.00731,0.00615,0.00692,0.00538,0.00654,0.00731,0.00615,0.00692,0.00577,0.00654,0.00731,0.00615,0.00538,0.00692,0.00654,0.00577,0.00731,0.00615,0.00692,0.00577,0.00654,0.00769,0.00615,0.00692,0.00654];
const lavenderCircle = [0.00577,0.00500,0.00615,0.00692,0.00538,0.00654,0.00577,0.00462,0.00615,0.00538,0.00654,0.00577,0.00692,0.00500,0.00615,0.00577,0.00654,0.00538,0.00615,0.00692,0.00577,0.00500,0.00654,0.00615,0.00538,0.00692,0.00577,0.00654,0.00500,0.00615,0.00538,0.00692,0.00577,0.00654,0.00615,0.00500,0.00577,0.00654,0.00538,0.00615,0.00692,0.00577,0.00615];
const creamSquare = [0.00692,0.00615,0.00731,0.00654,0.00577,0.00692,0.00769,0.00615,0.00692,0.00577,0.00731,0.00654,0.00615,0.00769,0.00692,0.00577,0.00731,0.00654,0.00615,0.00692,0.00769,0.00654,0.00577,0.00731,0.00692,0.00615,0.00769,0.00654,0.00577,0.00731,0.00654,0.00692,0.00615,0.00769,0.00654,0.00577,0.00731,0.00692,0.00615,0.00654,0.00731,0.00615,0.00692];
const pinkDown = [0.00500,0.00423,0.00538,0.00462,0.00500,0.00423,0.00462,0.00538,0.00500,0.00423,0.00462,0.00500,0.00538,0.00462,0.00423,0.00500,0.00462,0.00538,0.00423,0.00500,0.00462,0.00538,0.00500,0.00423,0.00462,0.00538,0.00462,0.00500,0.00423,0.00538,0.00462,0.00500,0.00423,0.00462,0.00538,0.00500,0.00462,0.00423,0.00500,0.00462,0.00538,0.00462,0.00500];
const blueBar = [0.00462,0.00538,0.00423,0.00500,0.00577,0.00462,0.00538,0.00500,0.00423,0.00538,0.00462,0.00577,0.00500,0.00423,0.00538,0.00462,0.00500,0.00577,0.00462,0.00423,0.00538,0.00500,0.00462,0.00577,0.00423,0.00500,0.00538,0.00462,0.00577,0.00500,0.00423,0.00462,0.00538,0.00500,0.00577,0.00462,0.00423,0.00538,0.00500,0.00462,0.00577,0.00500,0.00462];
const grayDiamond = [0.00538,0.00462,0.00500,0.00577,0.00423,0.00500,0.00538,0.00462,0.00577,0.00500,0.00423,0.00538,0.00462,0.00500,0.00577,0.00462,0.00538,0.00423,0.00500,0.00577,0.00462,0.00538,0.00500,0.00423,0.00577,0.00462,0.00538,0.00500,0.00462,0.00423,0.00538,0.00577,0.00462,0.00500,0.00423,0.00538,0.00462,0.00577,0.00500,0.00462,0.00538,0.00423,0.00500];
const orchidEllipse = [0.00423,0.00500,0.00462,0.00538,0.00462,0.00423,0.00500,0.00577,0.00462,0.00500,0.00423,0.00538,0.00500,0.00462,0.00423,0.00538,0.00462,0.00500,0.00577,0.00462,0.00423,0.00500,0.00538,0.00462,0.00500,0.00423,0.00577,0.00462,0.00538,0.00500,0.00423,0.00462,0.00538,0.00462,0.00500,0.00577,0.00423,0.00500,0.00462,0.00538,0.00462,0.00423,0.00462];
const orchidTriangle = [0.00808,0.00885,0.00846,0.00769,0.00846,0.00808,0.00885,0.00808,0.00846,0.00769,0.00885,0.00808,0.00846,0.00769,0.00808,0.00885,0.00846,0.00808,0.00769,0.00846,0.00885,0.00808,0.00846,0.00769,0.00808,0.00885,0.00808,0.00846,0.00769,0.00846,0.00808,0.00885,0.00846,0.00769,0.00808,0.00846,0.00885,0.00808,0.00769,0.00846,0.00808,0.00885,0.00846];
const mintRight = [0.00846,0.00769,0.00808,0.00885,0.00808,0.00846,0.00769,0.00846,0.00808,0.00885,0.00769,0.00846,0.00808,0.00885,0.00846,0.00769,0.00808,0.00846,0.00885,0.00808,0.00769,0.00846,0.00808,0.00885,0.00846,0.00808,0.00769,0.00885,0.00808,0.00846,0.00769,0.00808,0.00885,0.00846,0.00808,0.00769,0.00846,0.00808,0.00885,0.00846,0.00769,0.00808,0.00846];

// ============ Series styles ============

const SERIES = [
    { values: redSquare,           color: '#ff5555', shape: 'square' },
    { values: blueCircle,          color: '#5555ff', shape: 'circle' },
    { values: greenTriangle,       color: '#55ff55', shape: 'up' },
    { values: yellowDiamond,       color: '#ffff55', shape: 'diamond' },
    { values: magentaRect,         color: '#ff55ff', shape: 'hrect' },
    { values: cyanDownTriangle,    color: '#55ffff', shape: 'down' },
    { values: pinkEllipse,         color: '#ffafaf', shape: 'hellipse' },
    { values: grayTriangle,        color: '#808080', shape: 'right' },
    { values: darkRedSquare,       color: '#c00000', shape: 'square' },
    { values: darkBlueLeft,        color: '#0000c0', shape: 'left' },
    { values: darkGreenLow,        color: '#00c000', shape: 'square' },
    { values: darkGreenPeak,       color: '#00c000', shape: 'square' },
    { values: darkYellowSquare,    color: '#c0c000', shape: 'square' },
    { values: darkMagentaSquare,   color: '#c000c0', shape: 'square' },
    { values: darkMagentaTriangle, color: '#c000c0', shape: 'up' },
    { values: darkCyanDiamond,     color: '#00c0c0', shape: 'diamond' },
    { values: darkGrayRect,        color: '#404040', shape: 'hrect' },
    { values: lightRedDiamond,     color: '#ff4040', shape: 'diamond' },
    { values: lightBlueSquare,     color: '#4040ff', shape: 'square' },
    { values: lightGreenRight,     color: '#40ff40', shape: 'right' },
    { values: lightYellowBar,      color: '#ffff40', shape: 'vrect' },
    { values: lightMagentaLeft,    color: '#ff40ff', shape: 'left' },
    { values: lightCyanSquare,     color: '#40ffff', shape: 'square' },
    { values: lightGrayCircle,     color: '#c0c0c0', shape: 'circle' },
    { values: maroonSquare,        color: '#800000', shape: 'square' },
    { values: maroonTriangle,      color: '#800000', shape: 'up' },
    { values: navyCircle,          color: '#000080', shape: 'circle' },
    { values: forestTriangle,      color: '#008000', shape: 'up' },
    { values: oliveDiamond,        color: '#808000', shape: 'diamond' },
    { values: purpleRect,          color: '#800080', shape: 'hrect' },
    { values: tealDownTriangle,    color: '#008080', shape: 'down' },
    { values: salmonRect,          color: '#ff8080', shape: 'hrect' },
    { values: lavenderRight,       color: '#8080ff', shape: 'right' },
    { values: mintSquare,          color: '#80ff80', shape: 'square' },
    { values: creamLeft,           color: '#ffff80', shape: 'left' },
    { values: orchidSquare,        color: '#ff80ff', shape: 'square' },
    { values: blueDownTriangle,    color: '#5555ff', shape: 'down' },
    { values: greenEllipse,        color: '#55ff55', shape: 'hellipse' },
    { values: yellowRight,         color: '#ffff55', shape: 'right' },
    { values: cyanRight,           color: '#00c0c0', shape: 'right' },
    { values: pinkSquare,          color: '#ffafaf', shape: 'square' },
    { values: grayCircle,          color: '#808080', shape: 'circle' },
    { values: darkBlueRight,       color: '#0000c0', shape: 'right' },
    { values: blueLeft,            color: '#5555ff', shape: 'left' },
    { values: periwinkleRight,     color: '#8080ff', shape: 'right' },
    { values: cyanRect,            color: '#55ffff', shape: 'hrect' },
    { values: paleCyanDiamond,     color: '#80ffff', shape: 'diamond' },
    { values: tealSquare,          color: '#008080', shape: 'square' },
    { values: limeCircle,          color: '#40ff40', shape: 'circle' },
    { values: mintLowSquare,       color: '#80ff80', shape: 'square' },
    { values: redEllipse,          color: '#ff5555', shape: 'hellipse' },
    { values: blueRight,           color: '#5555ff', shape: 'right' },
    { values: greenBar,            color: '#55ff55', shape: 'vrect' },
    { values: yellowLeft,          color: '#ffff55', shape: 'left' },
    { values: magentaBar,          color: '#ff55ff', shape: 'vrect' },
    { values: cyanLeft,            color: '#55ffff', shape: 'left' },
    { values: darkRedTriangle,     color: '#c00000', shape: 'up' },
    { values: darkBlueDiamond,     color: '#0000c0', shape: 'diamond' },
    { values: darkGreenRect,       color: '#00c000', shape: 'hrect' },
    { values: darkYellowDown,      color: '#c0c000', shape: 'down' },
    { values: darkMagentaEllipse,  color: '#c000c0', shape: 'hellipse' },
    { values: darkCyanRight,       color: '#00c0c0', shape: 'right' },
    { values: darkGrayBar,         color: '#404040', shape: 'vrect' },
    { values: lightRedLeft,        color: '#ff4040', shape: 'left' },
    { values: lightBlueCircle,     color: '#4040ff', shape: 'circle' },
    { values: lightGreenTriangle,  color: '#40ff40', shape: 'up' },
    { values: lightYellowDiamond,  color: '#ffff40', shape: 'diamond' },
    { values: lightMagentaRect,    color: '#ff40ff', shape: 'hrect' },
    { values: lightCyanDown,       color: '#40ffff', shape: 'down' },
    { values: lightGrayRight,      color: '#c0c0c0', shape: 'right' },
    { values: maroonEllipse,       color: '#800000', shape: 'hellipse' },
    { values: navyRight,           color: '#000080', shape: 'right' },
    { values: forestBar,           color: '#008000', shape: 'vrect' },
    { values: oliveLeft,           color: '#808000', shape: 'left' },
    { values: purpleCircle,        color: '#800080', shape: 'circle' },
    { values: tealRight,           color: '#008080', shape: 'right' },
    { values: salmonTriangle,      color: '#ff8080', shape: 'up' },
    { values: lavenderCircle,      color: '#8080ff', shape: 'circle' },
    { values: creamSquare,         color: '#ffff80', shape: 'square' },
    { values: pinkDown,            color: '#ffafaf', shape: 'down' },
    { values: blueBar,             color: '#5555ff', shape: 'vrect' },
    { values: grayDiamond,         color: '#808080', shape: 'diamond' },
    { values: orchidEllipse,       color: '#ff80ff', shape: 'hellipse' },
    { values: orchidTriangle,      color: '#ff80ff', shape: 'up' },
    { values: mintRight,           color: '#80ff80', shape: 'right' }
];

// ============ Markers ============

// small filled shapes, same set as the standard series shapes
function makeMarker(shape, color) {
    const c = document.createElement('canvas');
    c.width = 9;
    c.height = 9;
    const g = c.getContext('2d');
    const m = 4.5, d = 3.5;
    g.fillStyle = color;
    g.beginPath();
    switch (shape) {
        case 'square': g.rect(m - d, m - d, 2 * d, 2 * d); break;
        case 'circle': g.arc(m, m, d, 0, Math.PI * 2); break;
        case 'up': g.moveTo(m, m - d); g.lineTo(m + d, m + d); g.lineTo(m - d, m + d); break;
        case 'down': g.moveTo(m - d, m - d); g.lineTo(m + d, m - d); g.lineTo(m, m + d); break;
        case 'right': g.moveTo(m - d, m - d); g.lineTo(m + d, m); g.lineTo(m - d, m + d); break;
        case 'left': g.moveTo(m + d, m - d); g.lineTo(m + d, m + d); g.lineTo(m - d, m); break;
        case 'diamond': g.moveTo(m, m - d); g.lineTo(m + d, m); g.lineTo(m, m + d); g.lineTo(m - d, m); break;
        case 'hrect': g.rect(m - d, m - d / 2, 2 * d, d); break;
        case 'vrect': g.rect(m - d / 2, m - d, d, 2 * d); break;
        case 'hellipse': g.ellipse(m, m, d, d / 2, 0, 0, Math.PI * 2); break;
    }
    g.closePath();
    g.fill();
    return c;
}

// ============ Datasets ============

// lines first, then all markers on top of them
const lineSets = SERIES.map(s => ({
    data: s.values.map((v, i) => ({ x: i, y: v })),
    borderColor: s.color,
    borderWidth: 1,
    pointRadius: 0,
    tension: 0,
    fill: false,
    order: 1
}));

const markerSets = SERIES.map(s => ({
    data: s.values.map((v, i) => ({ x: i, y: v })),
    showLine: false,
    pointStyle: makeMarker(s.shape, s.color),
    pointRadius: 4,
    order: 0
}));

// ============ Plugins ============

const plotFrame = {
    id: 'plotFrame',
    beforeDraw(chart) {
        const { ctx, chartArea: a } = chart;
        ctx.save();
        ctx.fillStyle = '#eeeeee';
        ctx.fillRect(0, 0, chart.width, chart.height);
        ctx.fillStyle = '#ffffff';
        ctx.fillRect(a.left, a.top, a.right - a.left, a.bottom - a.top);
        ctx.restore();
    },
    afterDraw(chart) {
        const { ctx, chartArea: a } = chart;
        ctx.save();
        ctx.strokeStyle = '#808080';
        ctx.lineWidth = 1;
        ctx.strokeRect(a.left + 0.5, a.top + 0.5, a.right - a.left - 1, a.bottom - a.top - 1);
        ctx.restore();
    }
};

// ============ Chart ============

const FONT = 'Liberation Sans, Arial, sans-serif';

new Chart(document.getElementById('chart'), {
    type: 'line',
    data: { datasets: [...lineSets, ...markerSets] },
    plugins: [plotFrame],
    options: {
        responsive: false,
        animation: false,
        devicePixelRatio: 1,
        layout: { padding: { left: 8, right: 7, top: 0, bottom: 0 } },
        plugins: {
            legend: { display: false },
            tooltip: { enabled: false },
            title: {
                display: true,
                text: 'Collection.contains(E) not (slow) HugeHashSet (all results)',
                color: '#000000',
                font: { family: FONT, size: 18, weight: 'bold' },
                padding: { top: 3, bottom: 3.4 }
            }
        },
        scales: {
            x: {
                type: 'linear',
                min: -2.98,
                max: 48.99,
                afterBuildTicks: scale => {
                    scale.ticks = categories.map((_, i) => ({ value: i }));
                },
                afterFit: scale => { scale.height = 25; },
                ticks: {
                    autoSkip: false,
                    maxRotation: 0,
                    padding: 4,
                    color: '#333333',
                    font: { family: FONT, size: 10 },
                    callback: v => categories[v] ?? ''
                },
                grid: { display: false, drawTicks: false },
                border: { display: true, color: '#808080' }
            },
            y: {
                type: 'linear',
                min: 0,
                max: 0.0105,
                afterFit: scale => { scale.width = 62; },
                ticks: {
                    stepSize: 0.0005,
                    padding: 3,
                    color: '#333333',
                    font: { family: FONT, size: 10 },
                    callback: v => v.toFixed(4)
                },
                grid: {
                    color: '#d4d4d4',
                    lineWidth: 1,
                    tickLength: 4,
                    tickColor: '#808080'
                },
                border: { display: true, color: '#808080', dash: [2, 2] },
                title: {
                    display: true,
                    text: 'ms',
                    color: '#000000',
                    font: { family: FONT, size: 12 },
                    padding: { top: 5, bottom: 0 }
                }
            }
        }
    }
});
</script>
</body>
</html>
